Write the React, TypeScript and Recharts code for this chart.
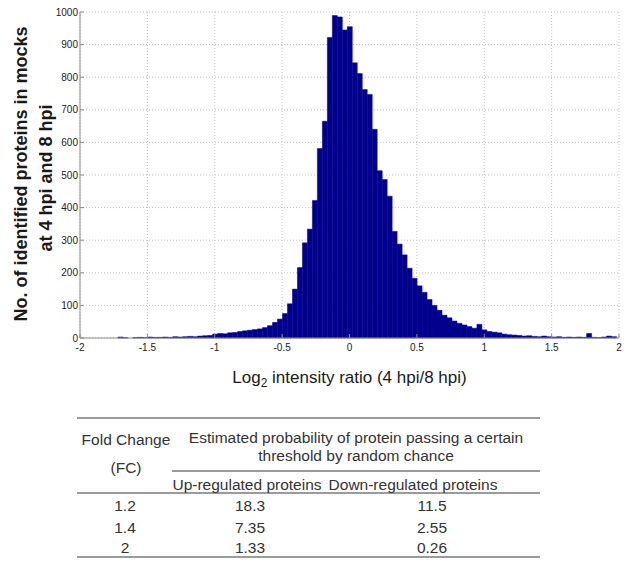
import React from 'react';
import {
  BarChart,
  Bar,
  XAxis,
  YAxis,
  CartesianGrid,
} from 'recharts';

// histogram bin centres (log2 ratio) and counts per bin
const binCenters = [
  -1.7, -1.663, -1.626, -1.589, -1.552, -1.515, -1.478, -1.441, -1.404, -1.367,
  -1.33, -1.293, -1.256, -1.219, -1.182, -1.145, -1.108, -1.071, -1.034, -0.997,
  -0.96, -0.923, -0.886, -0.849, -0.812, -0.775, -0.738, -0.701, -0.664, -0.627,
  -0.59, -0.553, -0.516, -0.479, -0.442, -0.405, -0.368, -0.331, -0.294, -0.257,
  -0.22, -0.183, -0.146, -0.109, -0.072, -0.035, 0.002, 0.039, 0.076, 0.113,
  0.15, 0.187, 0.224, 0.261, 0.298, 0.335, 0.372, 0.409, 0.446, 0.483,
  0.52, 0.557, 0.594, 0.631, 0.668, 0.705, 0.742, 0.779, 0.816, 0.853,
  0.89, 0.927, 0.964, 1.001, 1.038, 1.075, 1.112, 1.149, 1.186, 1.223,
  1.26, 1.297, 1.334, 1.371, 1.408, 1.445, 1.482, 1.519, 1.556, 1.593,
  1.63, 1.667, 1.704, 1.741, 1.778, 1.815, 1.852, 1.889, 1.926, 1.963,
];

const counts = [
  3, 1, 0, 1, 2, 1, 3, 2, 2, 3,
  2, 4, 3, 4, 5, 4, 6, 7, 8, 12,
  14, 13, 16, 17, 20, 22, 24, 26, 28, 32,
  38, 48, 58, 75, 105, 150, 216, 292, 334, 422,
  581, 665, 922, 989, 985, 945, 955, 844, 811, 762,
  747, 640, 513, 486, 435, 327, 288, 255, 214, 183,
  160, 140, 118, 100, 85, 70, 62, 52, 45, 40,
  35, 30, 42, 25, 20, 18, 16, 12, 10, 9,
  8, 6, 7, 5, 4, 6, 4, 3, 4, 2,
  3, 2, 3, 2, 14, 2, 1, 3, 6, 4,
];

const xTicks = [-2, -1.5, -1, -0.5, 0, 0.5, 1, 1.5, 2];
const yTicks = [0, 100, 200, 300, 400, 500, 600, 700, 800, 900, 1000];

// table below the histogram
const foldChanges = ['1.2', '1.4', '2'];
const upRegulated = ['18.3', '7.35', '1.33'];
const downRegulated = ['11.5', '2.55', '0.26'];

const FONT = '"Liberation Sans", Arial, sans-serif';
const BAR = '#00008C';
const FRAME = '#8c8c8c';

const histData = binCenters.map((x, i) => ({ x, count: counts[i] }));

const YLabel = () => (
  <g fontFamily={FONT} fontWeight="bold" fontSize={18} fill="#1a1a1a">
    <text x={21} y={174} transform="rotate(-90 21 174)" textAnchor="middle" dominantBaseline="central">
      No. of identified proteins in mocks
    </text>
    <text x={46} y={178} transform="rotate(-90 46 178)" textAnchor="middle" dominantBaseline="central">
      at 4 hpi and 8 hpi
    </text>
  </g>
);

const XLabel = (props: any) => {
  const { x, y, width } = props.viewBox;
  return (
    <text x={x + width / 2} y={y + 45} textAnchor="middle" fontFamily={FONT} fontSize={17} fill="#1a1a1a">
      Log<tspan fontSize={12} dy={4}>2</tspan>
      <tspan dy={-4}> intensity ratio (4 hpi/8 hpi)</tspan>
    </text>
  );
};

function ProbabilityTable() {
  const rowY = [505, 527, 547];
  return (
    <svg width={629} height={564} style={{ position: 'absolute', left: 0, top: 0 }}>
      <g stroke="#7a7a7a" strokeWidth={1.5}>
        <line x1={77} x2={540} y1={418} y2={418} />
        <line x1={172} x2={540} y1={471} y2={471} />
        <line x1={77} x2={540} y1={493} y2={493} />
        <line x1={77} x2={540} y1={557} y2={557} />
      </g>
      <g fontFamily={FONT} fontSize={15.5} fill="#333" textAnchor="middle" dominantBaseline="central">
        <text x={126} y={439}>Fold Change</text>
        <text x={126} y={467}>(FC)</text>
        <text x={356} y={437}>Estimated probability of protein passing a certain</text>
        <text x={356} y={455}>threshold by random chance</text>
        <text x={247} y={484}>Up-regulated proteins</text>
        <text x={413} y={484}>Down-regulated proteins</text>
        {foldChanges.map((fc, i) => (
          <g key={fc}>
            <text x={125} y={rowY[i]}>{fc}</text>
            <text x={250} y={rowY[i]}>{upRegulated[i]}</text>
            <text x={432} y={rowY[i]}>{downRegulated[i]}</text>
          </g>
        ))}
      </g>
    </svg>
  );
}

export default function App() {
  return (
    <div style={{ position: 'absolute', left: 0, top: 0, width: 629, height: 564, background: '#fff' }}>
      <BarChart
        width={629}
        height={400}
        data={histData}
        margin={{ top: 12, right: 10, bottom: 28, left: 0 }}
        barCategoryGap={0}
        barGap={0}
      >
        <CartesianGrid stroke="#c4c4c4" strokeDasharray="1 2" />
        <XAxis
          type="number"
          dataKey="x"
          domain={[-2, 2]}
          ticks={xTicks}
          interval={0}
          height={34}
          tickSize={-4}
          tickMargin={10}
          stroke={FRAME}
          axisLine={{ stroke: FRAME }}
          tick={{ fontSize: 10, fill: '#222', fontFamily: FONT }}
          label={<XLabel />}
        />
        <XAxis
          xAxisId="top"
          orientation="top"
          type="number"
          dataKey="x"
          domain={[-2, 2]}
          ticks={xTicks}
          interval={0}
          height={0}
          tickSize={-4}
          tick={false}
          stroke={FRAME}
          axisLine={{ stroke: FRAME }}
        />
        <YAxis
          type="number"
          domain={[0, 1000]}
          ticks={yTicks}
          interval={0}
          width={80}
          tickSize={-4}
          tickMargin={6}
          stroke={FRAME}
          axisLine={{ stroke: FRAME }}
          tick={{ fontSize: 10, fill: '#222', fontFamily: FONT }}
          label={<YLabel />}
        />
        <YAxis
          yAxisId="right"
          orientation="right"
          type="number"
          domain={[0, 1000]}
          ticks={yTicks}
          interval={0}
          width={0}
          tickSize={-4}
          tick={false}
          stroke={FRAME}
          axisLine={{ stroke: FRAME }}
        />
        <Bar dataKey="count" fill={BAR} stroke={BAR} strokeWidth={0.5} isAnimationActive={false} />
      </BarChart>
      <ProbabilityTable />
    </div>
  );
}
